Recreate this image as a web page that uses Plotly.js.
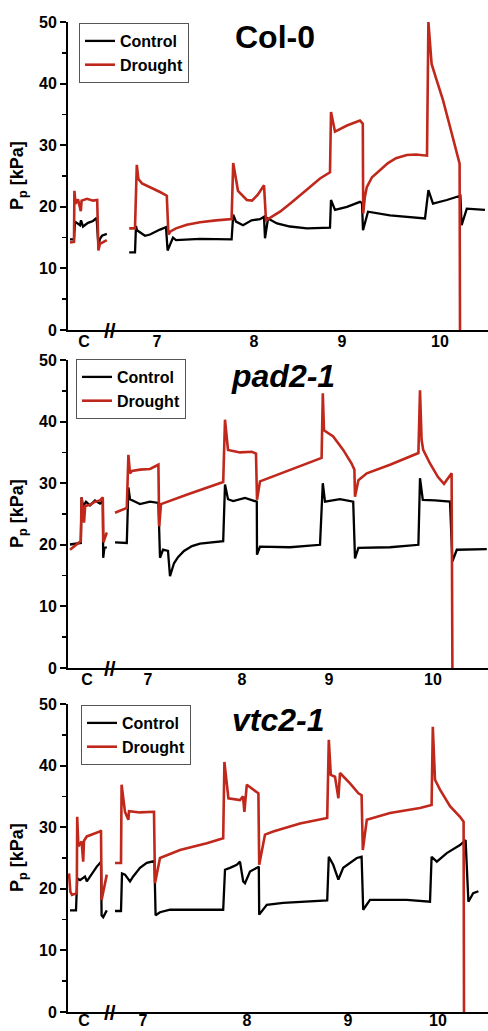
<!DOCTYPE html>
<html>
<head>
<meta charset="utf-8">
<script src="https://cdn.plot.ly/plotly-3.0.1.min.js"></script>
<style>html,body{margin:0;padding:0;background:#fff;}#chart{width:488px;height:1031px;}</style>
</head>
<body>
<div id="chart"></div>
<script>
// ---- Data (time in h from panel start, value in kPa) ----
const dayLabels = ['C', '7', '8', '9', '10'];
const col0TickPos = [4, 22.25, 46.5, 68.5, 93];
const pad2TickPos = [4.75, 20, 43.5, 65.25, 91.25];
const vtc2TickPos = [4, 18.75, 44.75, 70, 92.5];
const breakPos = 10.5;

// Col-0
const col0ControlT = [0.5,1.5,1.75,3,3.25,3.75,5,6.25,7.15,7.6,8,8.5,9.7,null,
  15.3,16.75,17,17.25,19.25,20.5,23,24.5,24.9,26.25,27,33,40.9,41.3,42,43.75,45.9,48,49,49.25,50,52.25,55.5,59.75,65.5,65.75,66.75,69.75,73,73.5,73.75,75,80.5,89.25,90.1,91.25,94.7,97.5,98.1,98.4,99.7,104.25];
const col0ControlP = [14.7,14.7,17.6,17.0,17.8,16.8,17.4,17.7,18.2,13.7,14.8,15.3,15.6,null,
  12.6,12.6,16.9,16.2,15.3,15.5,16.3,16.7,12.9,15.0,14.6,14.8,14.7,18.7,17.6,17.0,17.8,18.0,18.4,14.9,18.1,17.3,16.8,16.5,16.6,21.1,19.5,20.0,20.8,20.6,16.2,19.2,18.6,18.1,22.7,20.5,21.1,21.6,21.8,17.0,19.7,19.5];
const col0DroughtT = [0.5,1.5,1.6,1.9,2.5,3.2,3.4,4.75,6.25,7.3,7.6,8,9.7,null,
  15.3,16.75,17.2,17.6,18.5,20.5,23,24.7,25.1,25.6,27,29.7,33,37,40.9,41.3,42.5,44.7,46,47.5,49,49.5,50.5,53,55.5,58,60.5,63,65.5,65.75,66.75,69.75,73,73.7,73.8,74.2,74.7,76,78,80,82,84.7,87,89.75,90.1,90.9,92.2,93.75,95.5,97.2,97.9,98];
const col0DroughtP = [14.2,14.3,22.6,20.5,21.2,19.3,21.0,21.3,21.0,21.1,12.9,14.0,14.6,null,
  16.5,16.5,26.8,24.5,23.8,23.2,22.4,21.8,15.5,16.0,16.5,17.1,17.5,17.8,18.0,27.1,22.6,21.1,21.0,22.0,23.5,17.8,18.2,19.2,20.5,21.8,23.2,24.6,25.6,35.4,32.2,33.2,34.0,33.5,18.9,21.5,23.2,24.8,25.9,27.1,27.9,28.4,28.5,28.3,50.0,43.2,40.5,37.3,33.0,28.6,27.0,0];

// pad2-1
const pad2ControlT = [0.5,3.2,3.4,3.75,4.5,5.5,6.75,8,8.7,8.8,9.1,9.7,null,
  11.75,14.7,15.1,15.5,18,20.5,22.6,23,23.75,25,25.5,26,26.5,27.5,29,31,33,38.8,39.25,40,41.3,44.25,47.2,47.25,48,55.5,63,63.7,64.25,68,71.3,71.75,72.6,80.5,87.6,88,88.7,91.75,95.5,96.1,97.2,104.7];
const pad2ControlP = [20.05,20.3,27.7,26.2,27.0,26.4,27.2,26.7,27.1,17.9,19.5,19.6,null,
  20.4,20.3,29.3,27.4,26.6,27.0,26.8,17.9,19.2,19.0,14.9,16.0,17.0,18.0,19.0,19.8,20.2,20.6,29.8,27.4,27.1,27.6,27.0,18.4,19.7,19.6,20.0,30.0,27.0,27.4,27.0,17.8,19.5,19.6,20.0,30.8,27.3,27.2,27.0,17.3,19.2,19.3];
const pad2DroughtT = [0.5,3.2,3.4,3.75,4.0,4.3,5.5,6.75,8.0,8.7,8.85,9.7,null,
  11.75,14.7,15.1,15.5,16,18,20.5,22.6,22.8,23.25,30,38.8,39.25,40,43,46,47.0,47.25,48,55.5,63.4,63.7,64.0,66.3,68.8,70.9,71.6,71.75,72.6,74.7,80.5,87.6,88,88.4,88.8,90.5,92.5,94,95.5,95.9,96.1];
const pad2DroughtP = [19.2,20.6,27.7,25.8,23.6,26.3,26.5,27.0,27.2,27.7,20.4,22.0,null,
  25.2,26.0,34.6,31.6,32.0,32.2,32.3,33.0,23.0,26.6,28.2,30.2,40.3,35.4,35.0,35.1,34.8,27.3,30.3,32.2,34.1,44.6,38.6,37.6,35.4,33.2,32.2,27.8,30.5,31.6,33.0,34.9,45.1,37.0,35.4,33.2,31.0,29.9,31.1,31.6,0];

// vtc2-1
const vtc2ControlT = [0.5,2,2.3,3,4.25,4.7,7.2,8,8.25,8.4,8.8,9.7,null,
  11.75,13.25,13.5,14.25,15.5,16.3,18,19.7,21.6,21.9,23,25.5,38.8,39.25,40.5,42.2,43,43.8,44.25,45.5,47.2,47.7,47.8,49.7,53.8,64.8,65.2,66.3,67.6,68.8,72.2,73.4,73.8,75.5,84.7,90.5,90.9,92.2,94.7,98,99.4,100.1,101.3,102.6];
const vtc2ControlP = [16.5,16.5,21.7,21.4,22.0,21.2,23.6,24.2,24.0,15.7,15.4,16.5,null,
  16.4,16.4,22.5,22.3,21.2,22.0,23.4,24.2,24.5,15.7,16.2,16.6,16.6,23.1,23.4,23.9,24.4,21.2,20.9,22.8,23.4,23.6,15.8,17.4,17.7,18.1,25.2,23.9,21.5,23.4,25.0,25.2,16.6,18.2,18.2,17.9,25.2,24.4,25.8,27.1,27.9,17.9,19.3,19.6];
const vtc2DroughtT = [0.25,0.6,1,2.2,2.3,2.6,3.4,3.8,4.0,4.7,8,8.25,8.4,8.75,9.7,null,
  11.75,13.25,13.4,14.25,15.1,15.25,18,21.5,21.75,23,28,34.7,38.8,39.1,40.1,43,43.75,44.1,44.7,46.3,47.6,47.8,49.25,51.3,58,64.8,65.2,65.7,66.75,67.6,68,70.5,72.6,73.4,73.7,74.7,80.5,88,90.9,91.2,91.5,91.75,93,95.5,98,98.9,99];
const vtc2DroughtP = [22.5,19.5,19.0,19.3,31.7,26.9,27.7,24.4,27.8,28.5,29.3,29.5,18.2,19.3,22.3,null,
  24.2,24.2,36.9,32.5,31.2,32.6,32.4,32.5,20.9,25.0,26.3,27.4,28.2,40.6,34.7,34.4,35.0,32.5,36.9,36.1,35.5,23.9,28.8,29.3,30.6,31.5,44.2,38.5,38.2,34.7,38.8,37.1,35.5,35.2,26.3,31.2,32.3,33.1,33.6,46.3,40.0,37.7,36.1,33.4,31.7,30.9,0];

const panelNames = ['Col-0', 'pad2-1', 'vtc2-1'];

// ---- Layout ----
const W = 488, H = 1031;
const FONT = 'Liberation Sans, Arial, Helvetica, sans-serif';
const RED = '#c0281c';
const xDom = [68 / W, 1];
const yDoms = [[1 - 330 / H, 1 - 22 / H], [1 - 668 / H, 1 - 360 / H], [1 - 1012 / H, 1 - 704 / H]];
const tickPos = [col0TickPos, pad2TickPos, vtc2TickPos];
const labelStandoff = [-4, -4, -7];
const legendPos = [[79 / W, 1 - 23 / H], [76 / W, 1 - 359 / H], [81 / W, 1 - 705 / H]];
const titlePos = [[275, 37], [283, 376], [278, 720]];

const series = [
  [col0ControlT, col0ControlP, col0DroughtT, col0DroughtP],
  [pad2ControlT, pad2ControlP, pad2DroughtT, pad2DroughtP],
  [vtc2ControlT, vtc2ControlP, vtc2DroughtT, vtc2DroughtP]
];

const traces = [];
const layout = {
  width: W, height: H,
  margin: {l: 0, r: 0, t: 0, b: 0},
  paper_bgcolor: '#fff', plot_bgcolor: '#fff',
  font: {family: FONT, color: '#000'},
  annotations: [],
  showlegend: true
};

for (let i = 0; i < 3; i++) {
  const sfx = i === 0 ? '' : String(i + 1);
  const legendId = 'legend' + sfx;
  const [cT, cP, dT, dP] = series[i];
  traces.push({
    type: 'scatter', mode: 'lines', x: cT, y: cP, name: 'Control',
    xaxis: 'x' + sfx, yaxis: 'y' + sfx, legend: legendId,
    line: {color: '#000', width: 2.3}, connectgaps: false, hoverinfo: 'skip'
  });
  traces.push({
    type: 'scatter', mode: 'lines', x: dT, y: dP, name: 'Drought',
    xaxis: 'x' + sfx, yaxis: 'y' + sfx, legend: legendId,
    line: {color: RED, width: 2.6}, connectgaps: false, hoverinfo: 'skip'
  });

  layout['xaxis' + sfx] = {
    domain: xDom, anchor: 'y' + sfx, range: [0, 105],
    showline: true, linecolor: '#000', linewidth: 2,
    showgrid: false, zeroline: false, ticks: '',
    tickmode: 'array', tickvals: tickPos[i], ticktext: dayLabels,
    ticklabelstandoff: labelStandoff[i],
    tickfont: {family: FONT, size: 16, weight: 'bold', color: '#000'},
    automargin: false, fixedrange: true
  };
  layout['yaxis' + sfx] = {
    domain: yDoms[i], anchor: 'x' + sfx, range: [0, 50],
    showline: true, linecolor: '#000', linewidth: 2,
    showgrid: false, zeroline: false,
    ticks: 'outside', ticklen: 6, tickwidth: 2, tickcolor: '#000',
    dtick: 10, tick0: 0,
    minor: {dtick: 5, ticks: 'outside', ticklen: 4, tickwidth: 1.5, tickcolor: '#000'},
    tickfont: {family: FONT, size: 16, weight: 'bold', color: '#000'},
    automargin: false, fixedrange: true
  };
  layout[legendId] = {
    x: legendPos[i][0], y: legendPos[i][1], xanchor: 'left', yanchor: 'top',
    xref: 'paper', yref: 'paper',
    bgcolor: '#fff', bordercolor: '#555', borderwidth: 1,
    font: {family: FONT, size: 16, weight: 'bold', color: '#000'},
    tracegroupgap: 0, itemwidth: 30
  };
  // y-axis title
  layout.annotations.push({
    xref: 'paper', yref: 'paper', x: 18 / W, y: (yDoms[i][0] + yDoms[i][1]) / 2,
    text: 'P<sub>p</sub> [kPa]', textangle: -90, showarrow: false,
    xanchor: 'center', yanchor: 'middle',
    font: {family: FONT, size: 18, weight: 'bold', color: '#000'}
  });
  // panel title
  layout.annotations.push({
    xref: 'paper', yref: 'paper', x: titlePos[i][0] / W, y: 1 - titlePos[i][1] / H,
    text: panelNames[i], showarrow: false, xanchor: 'center', yanchor: 'middle',
    font: {family: FONT, size: 32, weight: 'bold', style: i === 0 ? 'normal' : 'italic', color: '#000'}
  });
  // axis break mark
  layout.annotations.push({
    xref: 'x' + sfx, yref: 'y' + sfx, x: breakPos, y: 0,
    text: '//', showarrow: false, xanchor: 'center', yanchor: 'middle',
    font: {family: FONT, size: 21, weight: 'bold', color: '#000'}
  });
}

Plotly.newPlot('chart', traces, layout, {staticPlot: true, displayModeBar: false});
</script>
</body>
</html>
